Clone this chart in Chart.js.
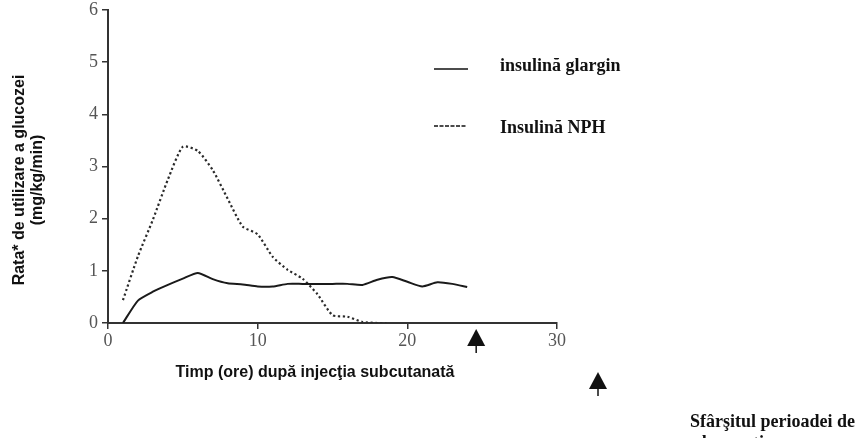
<!DOCTYPE html>
<html lang="ro">
<head>
<meta charset="UTF-8">
<title>Rata de utilizare a glucozei</title>
<style>
  html, body { margin:0; padding:0; background:#fff; }
  #wrap { width:865px; height:438px; position:relative; }
</style>
</head>
<body>
<div id="wrap"><canvas id="chart" width="865" height="438"></canvas></div>

<script src="https://cdn.jsdelivr.net/npm/chart.js"></script>
<script>
// date
const glarginOre = [1, 2, 3, 4, 5, 6, 7, 8, 9, 10, 11, 12, 13, 14, 15, 16, 17, 18, 19, 20, 21, 22, 23, 24];
const glarginVal = [0, 0.43, 0.6, 0.73, 0.85, 0.96, 0.84, 0.76, 0.74, 0.7, 0.7, 0.75, 0.75, 0.75, 0.75, 0.75, 0.73, 0.83, 0.88, 0.79, 0.7, 0.78, 0.75, 0.69];
const nphOre = [1, 2, 3, 4, 5, 6, 7, 8, 9, 10, 11, 12, 13, 14, 15, 16, 17, 18, 18.6];
const nphVal = [0.44, 1.28, 1.98, 2.75, 3.38, 3.3, 2.93, 2.38, 1.85, 1.7, 1.27, 1.02, 0.85, 0.55, 0.15, 0.12, 0.02, 0, 0];
const xTicks = [0, 10, 20, 30];
const yTicks = [0, 1, 2, 3, 4, 5, 6];
const sfarsitOra = 24.6;

const legendItems = ['insulină glargin', 'Insulină NPH'];
const yTitle = ['Rata* de utilizare a glucozei', '(mg/kg/min)'];
const xTitle = 'Timp (ore) după injecţia subcutanată';
const notaJos = ['Sfârşitul perioadei de', 'observaţie'];

function pts(xs, ys) { return xs.map((x, i) => ({ x: x, y: ys[i] })); }

function arrow(ctx, cx, top) {
  ctx.save();
  ctx.fillStyle = '#111';
  ctx.strokeStyle = '#111';
  ctx.beginPath();
  ctx.moveTo(cx, top);
  ctx.lineTo(cx - 9, top + 17);
  ctx.lineTo(cx + 9, top + 17);
  ctx.closePath();
  ctx.fill();
  ctx.lineWidth = 1.5;
  ctx.beginPath();
  ctx.moveTo(cx, top + 16);
  ctx.lineTo(cx, top + 24);
  ctx.stroke();
  ctx.restore();
}

const decor = {
  id: 'decor',
  afterDraw(chart) {
    const ctx = chart.ctx;
    const xs = chart.scales.x, area = chart.chartArea;
    ctx.save();
    // legenda
    ctx.strokeStyle = '#111';
    ctx.lineWidth = 1.6;
    ctx.beginPath(); ctx.moveTo(434, 69); ctx.lineTo(468, 69); ctx.stroke();
    ctx.setLineDash([4, 1.5]);
    ctx.beginPath(); ctx.moveTo(434, 126); ctx.lineTo(466, 126); ctx.stroke();
    ctx.setLineDash([]);
    ctx.fillStyle = '#111';
    ctx.font = 'bold 18px "Liberation Serif", "Times New Roman", serif';
    ctx.textBaseline = 'alphabetic';
    ctx.textAlign = 'left';
    ctx.fillText(legendItems[0], 500, 71);
    ctx.fillText(legendItems[1], 500, 133);

    // titlu axa y
    ctx.font = 'bold 16px "Liberation Sans", Arial, sans-serif';
    ctx.textAlign = 'center';
    ctx.textBaseline = 'middle';
    ctx.save(); ctx.translate(20, 180); ctx.rotate(-Math.PI / 2); ctx.fillText(yTitle[0], 0, 0); ctx.restore();
    ctx.save(); ctx.translate(38, 180); ctx.rotate(-Math.PI / 2); ctx.fillText(yTitle[1], 0, 0); ctx.restore();

    // titlu axa x
    ctx.fillText(xTitle, 315, 373);

    // sageti
    arrow(ctx, xs.getPixelForValue(sfarsitOra), area.bottom + 6);
    arrow(ctx, 598, 372);

    // nota de jos
    ctx.font = 'bold 18px "Liberation Serif", "Times New Roman", serif';
    ctx.textAlign = 'left';
    ctx.textBaseline = 'alphabetic';
    ctx.fillText(notaJos[0], 690, 427);
    ctx.fillText(notaJos[1], 693, 448);
    ctx.restore();
  }
};

const tickFont = { family: '"Liberation Serif", "Times New Roman", serif', size: 18 };

new Chart(document.getElementById('chart'), {
  type: 'line',
  data: {
    datasets: [
      { label: legendItems[0], data: pts(glarginOre, glarginVal), borderColor: '#1a1a1a', borderWidth: 2, pointRadius: 0, tension: 0.2, fill: false },
      { label: legendItems[1], data: pts(nphOre, nphVal), borderColor: '#2a2a2a', borderWidth: 2.2, borderDash: [2.2, 2.6], pointRadius: 0, tension: 0.2, fill: false }
    ]
  },
  options: {
    responsive: false,
    animation: false,
    layout: { padding: { left: 70, right: 308, top: 10, bottom: 80 } },
    plugins: { legend: { display: false }, tooltip: { enabled: false } },
    scales: {
      x: {
        type: 'linear', min: 0, max: 30,
        afterBuildTicks: s => { s.ticks = xTicks.map(v => ({ value: v })); },
        afterFit: s => { s.height = 35; s.paddingLeft = 0; s.paddingRight = 0; },
        grid: { display: true, drawOnChartArea: false, drawTicks: true, tickLength: 6, color: '#333', lineWidth: 1.5 },
        border: { display: true, color: '#333', width: 2 },
        ticks: { font: tickFont, color: '#555', padding: 1, maxRotation: 0 }
      },
      y: {
        type: 'linear', min: 0, max: 6,
        afterBuildTicks: s => { s.ticks = yTicks.map(v => ({ value: v })); },
        afterFit: s => { s.width = 38; s.paddingTop = 0; s.paddingBottom = 0; },
        grid: { display: true, drawOnChartArea: false, drawTicks: true, tickLength: 6, color: '#333', lineWidth: 1.5 },
        border: { display: true, color: '#333', width: 2 },
        ticks: { font: tickFont, color: '#555', padding: 4 }
      }
    }
  },
  plugins: [decor]
});
</script>
</body>
</html>
